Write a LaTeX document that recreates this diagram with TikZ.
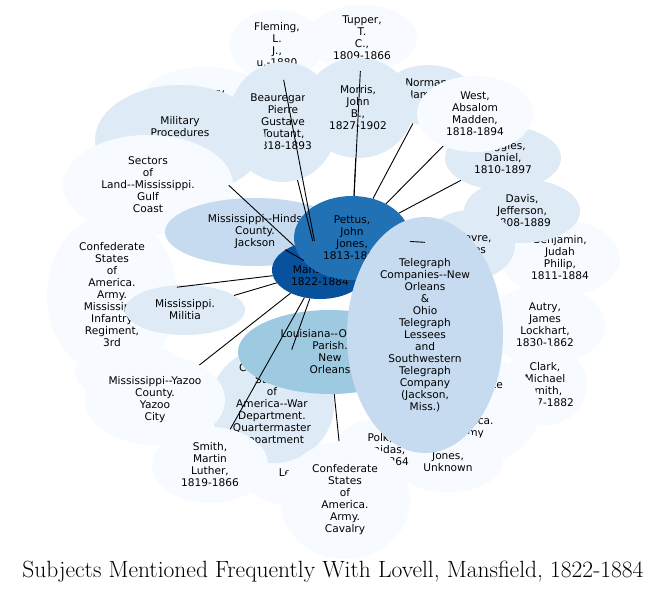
\documentclass[tikz,border=0pt]{standalone}
\usepackage{fontspec}
\newfontfamily\dv{DejaVu Sans}
\usetikzlibrary{shapes.geometric}
\definecolor{c1}{HTML}{F7FBFF}
\definecolor{c2}{HTML}{DEEBF7}
\definecolor{c3}{HTML}{C6DBEF}
\definecolor{c4}{HTML}{9ECAE1}
\definecolor{c5}{HTML}{2171B5}
\definecolor{c6}{HTML}{08519C}
\tikzset{
 bub/.style n args={3}{ellipse,inner sep=0pt,minimum width=#1pt,minimum height=#2pt,fill=#3,draw=none,align=center,font=\dv\fontsize{10.6}{12}\selectfont},
 edge/.style={black,line width=0.9pt}
}
\begin{document}
\begin{tikzpicture}[x=1pt,y=-1pt]
\useasboundingbox (0,0) rectangle (667,595);
\fill[white] (0,0) rectangle (667,595);
\node[bub={130}{70}{c1}] (mo) at (205,102) {\raisebox{6pt}{Military}\\\hspace*{40pt}Officers};
\node[bub={94}{70}{c1}] (fl) at (277,45) {Fleming,\\L.\\J.,\\u.-1880};
\node[bub={110}{66}{c1}] (tu) at (362,38) {Tupper,\\T.\\C.,\\1809-1866};
\node[bub={90}{60}{c2}] (no) at (428,95) {Norman,\\James,\\\phantom{x}};
\node[bub={110}{120}{c2}] (be) at (283,122) {Beauregard,\\Pierre\\Gustave\\Toutant,\\1818-1893};
\node[bub={110}{100}{c2}] (mr) at (358,108) {Morris,\\John\\B.,\\1827-1902};
\node[bub={116}{64}{c2}] (ru) at (503,158) {Ruggles,\\Daniel,\\1810-1897};
\node[bub={116}{76}{c1}] (we) at (475,114) {West,\\Absalom\\Madden,\\1818-1894};
\node[bub={120}{76}{c1}] (bj) at (560,258) {Benjamin,\\Judah\\Philip,\\1811-1884};
\node[bub={116}{64}{c2}] (da) at (522,211) {Davis,\\Jefferson,\\1808-1889};
\node[bub={120}{80}{c1}] (au) at (545,325) {Autry,\\James\\Lockhart,\\1830-1862};
\node[bub={84}{80}{c1}] (cl) at (545,385) {Clark,\\Michael\\Smith,\\1817-1882};
\node[bub={140}{110}{c1}] (ca) at (470,410) {Confederate\\States\\of\\America.\\Army};
\node[bub={110}{60}{c1}] (jo) at (448,462) {Jones,\\Unknown};
\node[bub={90}{64}{c1}] (po) at (380,450) {Polk,\\Leonidas,\\1806-1864};
\node[bub={100}{70}{c1}] (le) at (290,470) {\raisebox{-14pt}{Lee,}};
\node[bub={124}{110}{c2}] (wd) at (272,405) {Confederate\\States\\of\\America--War\\Department.\\Quartermaster\\Department};
\node[bub={130}{118}{c1}] (cv) at (345,500) {Confederate\\States\\of\\America.\\Army.\\Cavalry};
\node[bub={110}{60}{c1}] (m1) at (130,372) {};
\node[bub={130}{160}{c1}] (ci) at (112,295) {Confederate\\States\\of\\America.\\Army.\\Mississippi\\Infantry\\Regiment,\\3rd};
\node[bub={140}{90}{c1}] (yz) at (155,400) {Mississippi--Yazoo\\County.\\Yazoo\\City};
\node[bub={116}{76}{c1}] (sm) at (210,465) {Smith,\\Martin\\Luther,\\1819-1866};
\node[bub={170}{110}{c2}] (mp) at (180,140) {Military\\Procedures\\\&\\Recruiting};
\node[bub={170}{100}{c1}] (se) at (148,185) {Sectors\\of\\Land--Mississippi.\\Gulf\\Coast};
\node[bub={180}{68}{c3}] (hi) at (255,232) {Mississippi--Hinds\\County.\\Jackson};
\node[bub={120}{50}{c2}] (mi) at (185,310) {Mississippi.\\Militia};
\node[bub={184}{84}{c4}] (lo) at (330,352) {Louisiana--Orleans\\Parish.\\New\\Orleans};
\node[bub={96}{58}{c6}] (ma) at (320,270) {Lovell,\\Mansfield,\\1822-1884};
\node[bub={90}{70}{c2}] (lf) at (470,245) {Lefevre,\\James};
\node[bub={116}{84}{c5}] (pe) at (352,238) {Pettus,\\John\\Jones,\\1813-1867};
\node[bub={156}{236}{c3}] (te) at (425,335) {Telegraph\\Companies--New\\Orleans\\\&\\Ohio\\Telegraph\\Lessees\\and\\Southwestern\\Telegraph\\Company\\(Jackson,\\Miss.)};
\foreach \t in {fl,be,mp,hi,ci,mi,yz,sm,wd}
  \draw[edge] (ma) -- (\t);
\foreach \t in {tu,mr,no,we,ru,lf}
  \draw[edge] (pe) -- (\t);
\draw[edge] (lo) -- (cv);
\node[font=\fontsize{23.5}{26}\selectfont] (ti) at (333,572) {Subjects Mentioned Frequently With Lovell, Mansfield, 1822-1884};
\end{tikzpicture}
\end{document}
